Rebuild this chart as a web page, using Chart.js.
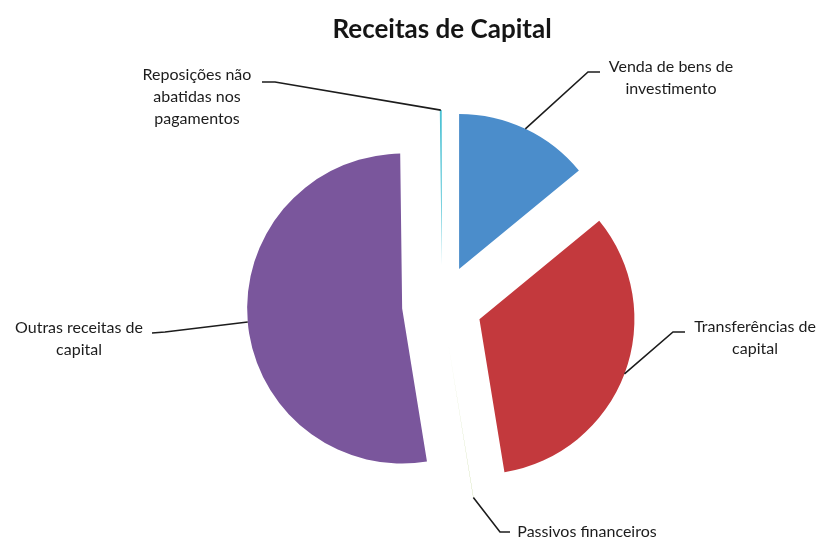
<!DOCTYPE html>
<html lang="pt">
<head>
<meta charset="utf-8">
<title>Receitas de Capital</title>
<script src="https://cdn.jsdelivr.net/npm/chart.js@4.4.1/dist/chart.umd.min.js"></script>
<style>
    html, body { margin: 0; padding: 0; background: #fff; }
    .chart-container { position: relative; width: 823px; height: 544px; }
</style>
</head>
<body>
<div class="chart-container"><canvas id="receitasChart"></canvas></div>
<script>
// categorias e valores (% do total)
const categorias = [
    'Venda de bens de investimento',
    'Transferências de capital',
    'Passivos financeiros',
    'Outras receitas de capital',
    'Reposições não abatidas nos pagamentos'
];
const valores = [14.06, 33.36, 0.02, 52.36, 0.2];
const cores = ['#4b8dcb', '#c3393d', '#9bbb59', '#7a569c', '#4fc3d5'];

// texto dos rótulos, linha a linha
const rotulosLinhas = [
    ['Venda de bens de', 'investimento'],
    ['Transferências de', 'capital'],
    ['Passivos financeiros'],
    ['Outras receitas de', 'capital'],
    ['Reposições não', 'abatidas nos', 'pagamentos']
];

// posição dos rótulos e das linhas de chamada (layout)
const rotulosPos = [
    { x: 671, y: 67, cotovelo: [588, 72], fim: [600, 72] },
    { x: 755, y: 327, cotovelo: [673, 332], fim: [685, 332] },
    { x: 587, y: 532, cotovelo: [500, 532], fim: [510, 532] },
    { x: 79, y: 328, cotovelo: [165, 332], fim: [152, 333] },
    { x: 197, y: 75, cotovelo: [275, 82], fim: [262, 82] }
];

const RAIO = 155;        // raio das fatias
const AFASTAMENTO = 40;  // distância de "explosão" de cada fatia
const FONTE = 'Lato, "Open Sans", sans-serif';

let receitasChart = null;

// afasta cada fatia do centro ao longo da sua bissetriz
const explodirPlugin = {
    id: 'explodir',
    beforeDatasetsDraw(chart) {
        const area = chart.chartArea;
        const cx = (area.left + area.right) / 2;
        const cy = (area.top + area.bottom) / 2;
        chart.getDatasetMeta(0).data.forEach(arc => {
            const meio = (arc.startAngle + arc.endAngle) / 2;
            arc.x = cx + Math.cos(meio) * AFASTAMENTO;
            arc.y = cy + Math.sin(meio) * AFASTAMENTO;
        });
    }
};

// rótulos com linhas de chamada, ligadas ao meio do arco de cada fatia
const rotulosPlugin = {
    id: 'rotulos',
    afterDatasetsDraw(chart) {
        const ctx = chart.ctx;
        const arcs = chart.getDatasetMeta(0).data;
        ctx.save();
        arcs.forEach((arc, i) => {
            const pos = rotulosPos[i];
            const ang = (arc.startAngle + arc.endAngle) / 2;
            const px = arc.x + Math.cos(ang) * arc.outerRadius;
            const py = arc.y + Math.sin(ang) * arc.outerRadius;

            ctx.strokeStyle = '#1c1c1c';
            ctx.lineWidth = 1.6;
            ctx.beginPath();
            ctx.moveTo(px, py);
            ctx.lineTo(pos.cotovelo[0], pos.cotovelo[1]);
            ctx.lineTo(pos.fim[0], pos.fim[1]);
            ctx.stroke();

            ctx.fillStyle = '#1c1c1c';
            ctx.font = '16px ' + FONTE;
            ctx.textAlign = 'center';
            ctx.textBaseline = 'middle';
            rotulosLinhas[i].forEach((linha, j) => {
                ctx.fillText(linha, pos.x, pos.y + j * 22);
            });
        });
        ctx.restore();
    }
};

function initChart() {
    const ctx = document.getElementById('receitasChart').getContext('2d');
    receitasChart = new Chart(ctx, {
        type: 'pie',
        data: {
            labels: categorias,
            datasets: [{
                data: valores,
                backgroundColor: cores,
                borderWidth: 0
            }]
        },
        options: {
            responsive: true,
            maintainAspectRatio: false,
            animation: false,
            radius: RAIO,
            layout: {
                padding: { left: 61, right: 0, top: 0, bottom: 0 }
            },
            plugins: {
                legend: { display: false },
                tooltip: { enabled: false },
                title: {
                    display: true,
                    text: 'Receitas de Capital',
                    color: '#151515',
                    font: { family: FONTE, size: 26, weight: 'bold' },
                    padding: { top: 14, bottom: 21 }
                }
            }
        },
        plugins: [explodirPlugin, rotulosPlugin]
    });
}

document.addEventListener('DOMContentLoaded', initChart);
</script>
</body>
</html>
